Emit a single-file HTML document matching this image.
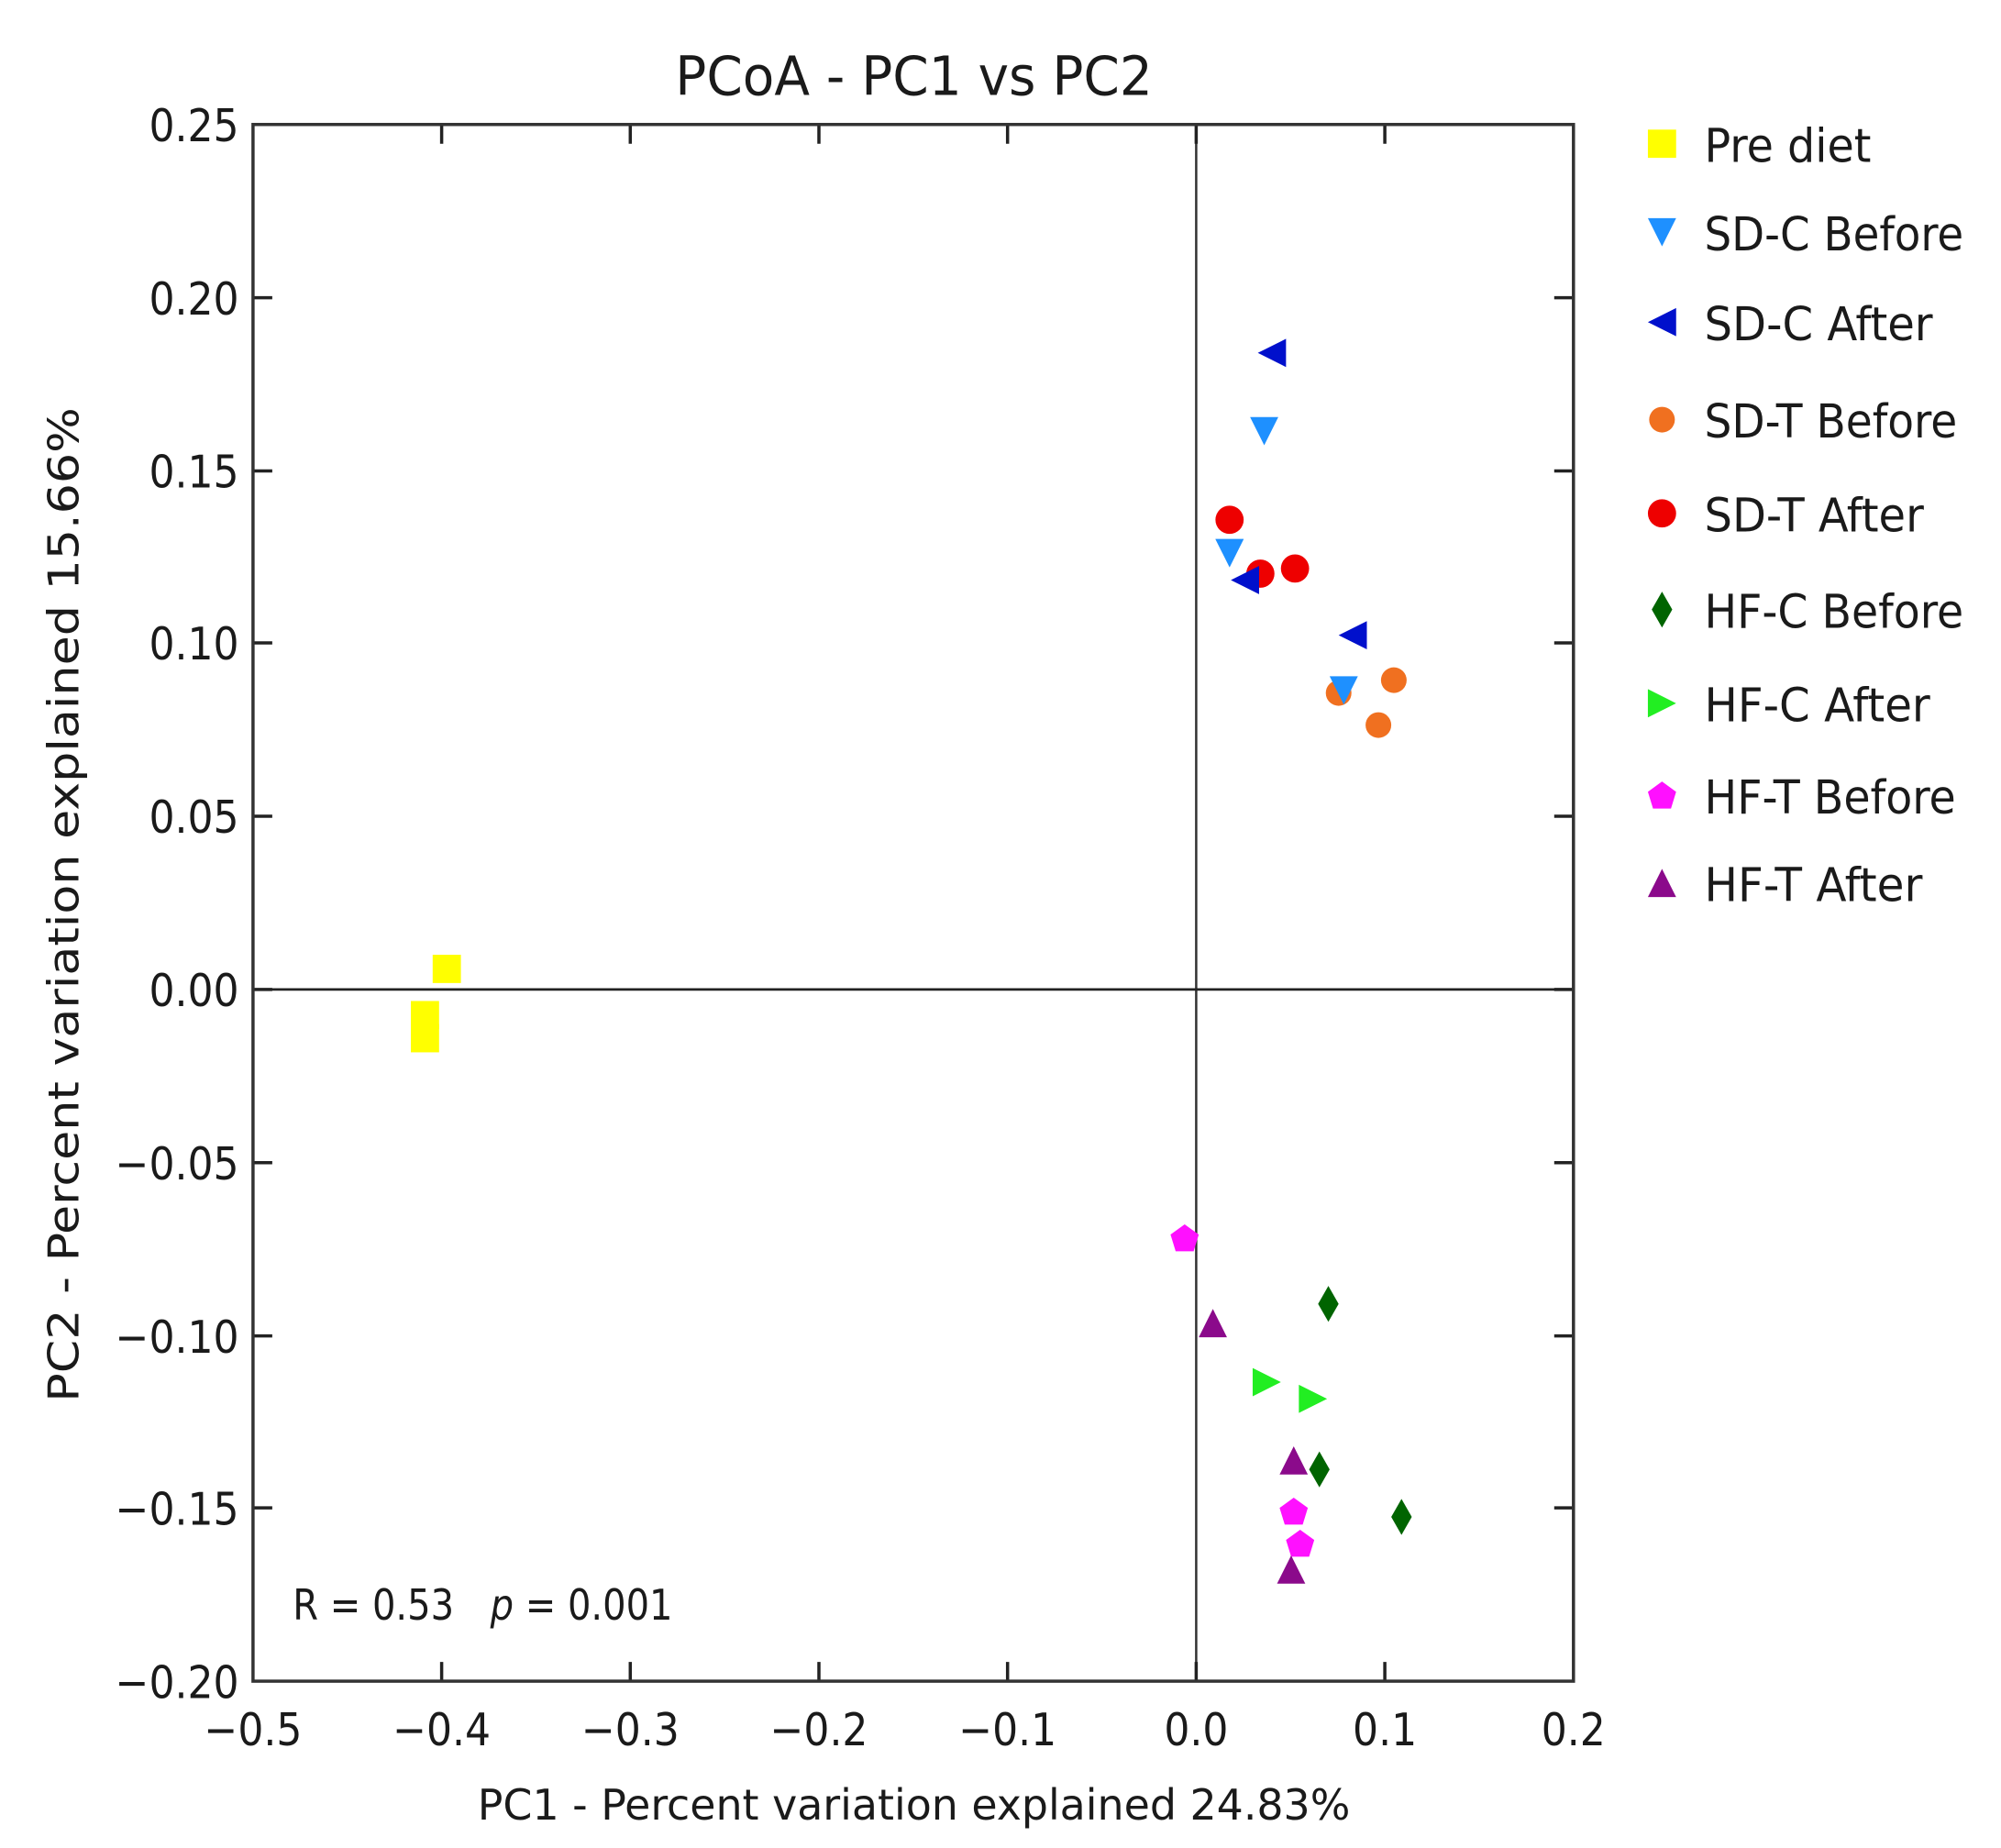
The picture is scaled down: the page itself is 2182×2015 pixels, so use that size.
<!DOCTYPE html>
<html><head><meta charset="utf-8"><style>html,body{margin:0;padding:0;background:#fff}svg{display:block}</style></head>
<body>
<svg width="2182" height="2015" viewBox="0 0 1559 1440" xmlns="http://www.w3.org/2000/svg" font-family="'DejaVu Sans Condensed','DejaVu Sans','Liberation Sans',sans-serif" fill="#1a1a1a">
<rect width="1559" height="1440" fill="#fff"/>
<text x="712" y="74" font-size="42" text-anchor="middle" textLength="372" lengthAdjust="spacingAndGlyphs">PCoA - PC1 vs PC2</text>
<line x1="932" y1="97" x2="932" y2="1310" stroke="#333" stroke-width="1.8"/>
<line x1="197" y1="771" x2="1226" y2="771" stroke="#222" stroke-width="2"/>
<g stroke="#222" stroke-width="2.5">
<path d="M344 97v15M491 97v15M638 97v15M785 97v15M932 97v15M1079 97v15
M344 1310v-15M491 1310v-15M638 1310v-15M785 1310v-15M932 1310v-15M1079 1310v-15
M197 232h15M197 367h15M197 501h15M197 636h15M197 771h15M197 906h15M197 1041h15M197 1175h15
M1226 232h-15M1226 367h-15M1226 501h-15M1226 636h-15M1226 771h-15M1226 906h-15M1226 1041h-15M1226 1175h-15"/>
</g>
<rect x="197" y="97" width="1029" height="1213" fill="none" stroke="#333" stroke-width="2.5"/>
<g font-size="35" text-anchor="end">
<text x="186" y="110">0.25</text><text x="186" y="245">0.20</text><text x="186" y="380">0.15</text><text x="186" y="514">0.10</text><text x="186" y="649">0.05</text><text x="186" y="784">0.00</text><text x="186" y="919">−0.05</text><text x="186" y="1054">−0.10</text><text x="186" y="1188">−0.15</text><text x="186" y="1323">−0.20</text>
</g>
<g font-size="35" text-anchor="middle">
<text x="197" y="1360">−0.5</text><text x="344" y="1360">−0.4</text><text x="491" y="1360">−0.3</text><text x="638" y="1360">−0.2</text><text x="785" y="1360">−0.1</text><text x="932" y="1360">0.0</text><text x="1079" y="1360">0.1</text><text x="1226" y="1360">0.2</text>
</g>
<text x="712" y="1418" font-size="33" text-anchor="middle" textLength="680" lengthAdjust="spacingAndGlyphs">PC1 - Percent variation explained 24.83%</text>
<text transform="translate(61,705) rotate(-90)" font-size="33" text-anchor="middle" textLength="775" lengthAdjust="spacingAndGlyphs">PC2 - Percent variation explained 15.66%</text>
<text x="228" y="1262" font-size="33" textLength="296" lengthAdjust="spacingAndGlyphs">R = 0.53 <tspan dx="20" font-style="italic">p</tspan> = 0.001</text>
<g fill="#ffff00"><rect x="337" y="744" width="22" height="22"/><rect x="320" y="780" width="22" height="22"/><rect x="320" y="798" width="22" height="22"/></g>
<g fill="#1e90ff"><path d="M974 325h22l-11 22z"/><path d="M947 420h22l-11 22z"/></g>
<g fill="#f07020"><circle cx="1043" cy="540" r="10"/><circle cx="1086" cy="530" r="10"/><circle cx="1074" cy="565" r="10"/></g>
<path d="M1036 527h22l-11 22z" fill="#1e90ff"/>
<g fill="#ee0000"><circle cx="958" cy="405" r="11"/><circle cx="982" cy="447" r="11"/><circle cx="1009" cy="443" r="11"/></g>
<path d="M947 420h22l-11 22z" fill="#1e90ff"/>
<g fill="#0010cc"><path d="M1002 264v22l-22-11z"/><path d="M981 441v22l-22-11z"/><path d="M1065 484v22l-22-11z"/></g>
<g fill="#006400"><path d="M1035 1002l8 14-8 14-8-14z"/><path d="M1028 1131l8 14-8 14-8-14z"/><path d="M1092 1168l8 14-8 14-8-14z"/></g>
<g fill="#22ee22"><path d="M976 1066v22l22-11z"/><path d="M1012 1079v22l22-11z"/></g>
<g fill="#ff10ff"><path d="M923 954l11 8-4 13h-14l-4-13z"/><path d="M1008 1167l11 8-4 13h-14l-4-13z"/><path d="M1013 1192l11 8-4 13h-14l-4-13z"/></g>
<g fill="#8b0a8b"><path d="M945 1020l11 22h-22z"/><path d="M1008 1127l11 22h-22z"/><path d="M1006 1212l11 22h-22z"/></g>
<g font-size="36">
<rect x="1284" y="101" width="22" height="22" fill="#ffff00"/><text x="1328" y="126" textLength="130" lengthAdjust="spacingAndGlyphs">Pre diet</text>
<path d="M1284 170h22l-11 22z" fill="#1e90ff"/><text x="1328" y="195" textLength="202" lengthAdjust="spacingAndGlyphs">SD-C Before</text>
<path d="M1306 240v22l-22-11z" fill="#0010cc"/><text x="1328" y="265" textLength="178" lengthAdjust="spacingAndGlyphs">SD-C After</text>
<circle cx="1295" cy="327" r="10" fill="#f07020"/><text x="1328" y="341" textLength="197" lengthAdjust="spacingAndGlyphs">SD-T Before</text>
<circle cx="1295" cy="400" r="11" fill="#ee0000"/><text x="1328" y="414" textLength="171" lengthAdjust="spacingAndGlyphs">SD-T After</text>
<path d="M1295 461l8 14-8 14-8-14z" fill="#006400"/><text x="1328" y="489" textLength="202" lengthAdjust="spacingAndGlyphs">HF-C Before</text>
<path d="M1284 537v22l22-11z" fill="#22ee22"/><text x="1328" y="562" textLength="176" lengthAdjust="spacingAndGlyphs">HF-C After</text>
<path d="M1295 609l11 8-4 13h-14l-4-13z" fill="#ff10ff"/><text x="1328" y="634" textLength="196" lengthAdjust="spacingAndGlyphs">HF-T Before</text>
<path d="M1295 677l11 22h-22z" fill="#8b0a8b"/><text x="1328" y="702" textLength="170" lengthAdjust="spacingAndGlyphs">HF-T After</text>
</g>
</svg>
</body></html>
